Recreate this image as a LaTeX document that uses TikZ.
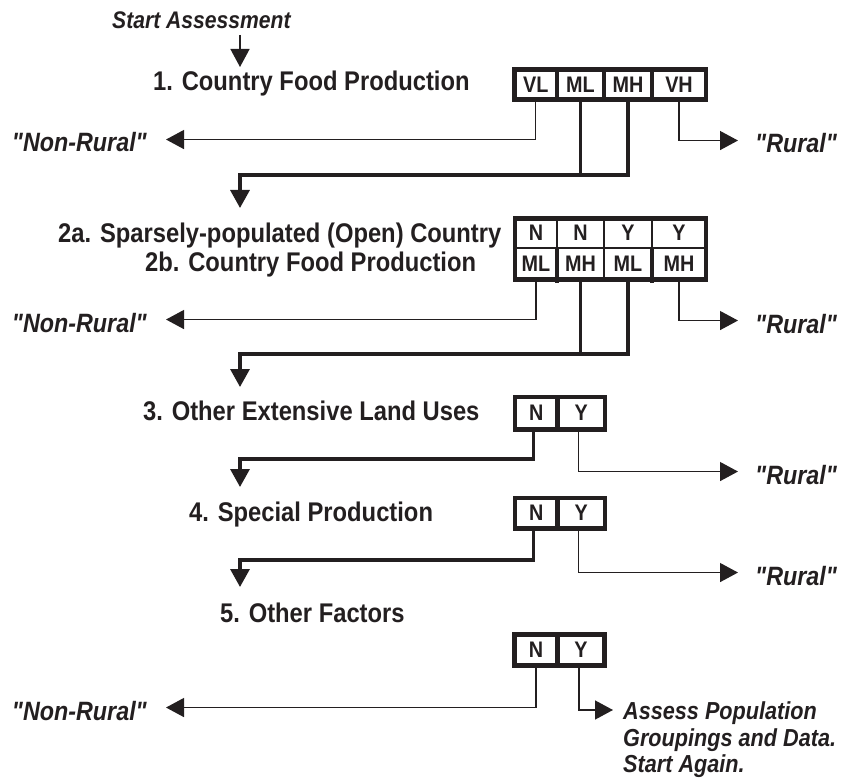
\documentclass[tikz,border=0pt]{standalone}
\usepackage{fontspec}
\setmainfont{Liberation Sans}[FakeStretch=0.88, Ligatures=TeXOff]
\usetikzlibrary{arrows.meta}
\definecolor{ink}{HTML}{231F20}
\tikzset{
  heading/.style={font=\bfseries\fontsize{27}{32}\selectfont, text=ink, inner sep=0pt, anchor=base west},
  verdict/.style={font=\bfseries\itshape\fontsize{26.5}{32}\selectfont, text=ink, inner sep=0pt},
  cell/.style={font=\bfseries\fontsize{22.5}{24}\selectfont, text=ink, inner sep=0pt},
  thinline/.style={draw=ink, line width=1.4pt},
  thickline/.style={draw=ink, line width=3.3pt},
  boxline/.style={draw=ink, line width=4.5pt},
  midline/.style={draw=ink, line width=2.5pt},
  hairline/.style={draw=ink, line width=1.5pt},
  tip/.style={-{Triangle[length=18pt,width=19pt]}}
}
\begin{document}
\begin{tikzpicture}[x=1pt,y=-1pt]
\useasboundingbox (0,0) rectangle (841,778);

% ---------- texts ----------
\node[font=\bfseries\itshape\fontsize{24}{28}\selectfont, text=ink, inner sep=0pt, anchor=base west] (start) at (112,28.5) {Start Assessment};
\node[heading] (h1) at (153,91) {1. Country Food Production};
\node[heading] (h2a) at (58,242.3) {2a. Sparsely-populated (Open) Country};
\node[heading] (h2b) at (145,271.7) {2b. Country Food Production};
\node[heading] (h3) at (143,420.7) {3. Other Extensive Land Uses};
\node[heading] (h4) at (189,521.7) {4. Special Production};
\node[heading] (h5) at (220,622.7) {5. Other Factors};

\node[verdict, anchor=base east] (nr1) at (147,152) {"Non-Rural"};
\node[verdict, anchor=base east] (nr2) at (147,332) {"Non-Rural"};
\node[verdict, anchor=base east] (nr3) at (147,720) {"Non-Rural"};
\node[verdict, anchor=base west] (r1) at (755,153) {"Rural"};
\node[verdict, anchor=base west] (r2) at (755,333) {"Rural"};
\node[verdict, anchor=base west] (r3) at (755,484) {"Rural"};
\node[verdict, anchor=base west] (r4) at (755,585) {"Rural"};
\node[font=\bfseries\itshape\fontsize{24.6}{26.5}\selectfont, text=ink, inner sep=0pt, anchor=north west, align=left] (as) at (623,701.5) {Assess Population\\Groupings and Data.\\Start Again.};

% ---------- cells ----------
% box 1
\node[cell, minimum width=42.5pt, minimum height=30pt] (b1vl) at (535.75,84.5) {VL};
\node[cell, minimum width=47pt, minimum height=30pt] (b1ml) at (580.5,84.5) {ML};
\node[cell, minimum width=48pt, minimum height=30pt] (b1mh) at (628,84.5) {MH};
\node[cell, minimum width=54pt, minimum height=30pt] (b1vh) at (679,84.5) {VH};
% box 2
\node[cell, minimum width=42pt, minimum height=29.5pt] (b2t1) at (536,233.25) {N};
\node[cell, minimum width=47pt, minimum height=29.5pt] (b2t2) at (580.5,233.25) {N};
\node[cell, minimum width=48pt, minimum height=29.5pt] (b2t3) at (628,233.25) {Y};
\node[cell, minimum width=54pt, minimum height=29.5pt] (b2t4) at (679,233.25) {Y};
\node[cell, minimum width=42pt, minimum height=31.5pt] (b2b1) at (536,263.75) {ML};
\node[cell, minimum width=47pt, minimum height=31.5pt] (b2b2) at (580.5,263.75) {MH};
\node[cell, minimum width=48pt, minimum height=31.5pt] (b2b3) at (628,263.75) {ML};
\node[cell, minimum width=54pt, minimum height=31.5pt] (b2b4) at (679,263.75) {MH};
% box 3
\node[cell, minimum width=42.5pt, minimum height=32.5pt] (b3n) at (536.25,413.25) {N};
\node[cell, minimum width=47.5pt, minimum height=32.5pt] (b3y) at (581.25,413.25) {Y};
% box 4
\node[cell, minimum width=42.5pt, minimum height=30.5pt] (b4n) at (536.25,513.25) {N};
\node[cell, minimum width=47.5pt, minimum height=30.5pt] (b4y) at (581.25,513.25) {Y};
% box 5
\node[cell, minimum width=43pt, minimum height=31pt] (b5n) at (536,650) {N};
\node[cell, minimum width=47pt, minimum height=31pt] (b5y) at (581,650) {Y};

% ---------- junction coordinates ----------
\coordinate (j1) at (240,175);  \coordinate (d1) at (240,208);
\coordinate (j2) at (240,354);  \coordinate (d2) at (240,387);
\coordinate (j3) at (240,459);  \coordinate (d3) at (240,487);
\coordinate (j4) at (240,560);  \coordinate (d4) at (240,587);
\coordinate (s0) at (240,35);   \coordinate (d0) at (240,67);

% ---------- connectors ----------
\draw[thinline,tip] (s0) -- (d0);

% box 1
\draw[thinline,tip] (b1vl.south) |- ([xshift=19pt,yshift=3pt]nr1.east);
\draw[thickline] (b1ml.south) -- (b1ml.south |- j1);
\draw[thickline,tip] (b1mh.south) |- (j1) -- (d1);
\draw[thinline,tip] (b1vh.south) |- ([xshift=-17pt,yshift=3pt]r1.west);

% box 2
\draw[thinline,tip] (b2b1.south) |- ([xshift=19pt,yshift=3pt]nr2.east);
\draw[thickline] (b2b2.south) -- (b2b2.south |- j2);
\draw[thickline,tip] (b2b3.south) |- (j2) -- (d2);
\draw[thinline,tip] (b2b4.south) |- ([xshift=-17pt,yshift=3pt]r2.west);
\draw[midline] (b2b4.south) -- ++(0,28);

% box 3
\draw[thickline,tip] ([xshift=-3pt]b3n.south) |- (j3) -- (d3);
\draw[thinline,tip] ([xshift=-3pt]b3y.south) |- ([xshift=-17pt,yshift=3pt]r3.west);

% box 4
\draw[thickline,tip] ([xshift=-3pt]b4n.south) |- (j4) -- (d4);
\draw[thinline,tip] ([xshift=-3pt]b4y.south) |- ([xshift=-17pt,yshift=3pt]r4.west);

% box 5
\draw[thinline,tip] (b5n.south) |- ([xshift=19pt,yshift=3pt]nr3.east);
\draw[thinline,tip] ([xshift=-2pt]b5y.south) |- ([xshift=-10pt,yshift=-8.5pt]as.north west);

% ---------- box frames ----------
\draw[boxline] (b1vl.north west) rectangle (b1vh.south east);
\foreach \c in {b1vl,b1ml,b1mh} \draw[boxline] (\c.north east) -- (\c.south east);

\draw[boxline] (b2t1.north west) rectangle (b2b4.south east);
\draw[hairline] (b2t1.south west) -- (b2t4.south east);
\draw[midline] (b2t1.north east) -- (b2t1.south east);
\draw[hairline] (b2t2.north east) -- (b2t2.south east);
\draw[midline] (b2t3.north east) -- (b2t3.south east);
\draw[boxline] (b2b1.north east) -- ([yshift=-3pt]b2b1.south east);
\draw[midline] (b2b2.north east) -- (b2b2.south east);
\draw[boxline] (b2b3.north east) -- ([yshift=-3pt]b2b3.south east);

\draw[boxline] (b3n.north west) rectangle (b3y.south east);
\draw[boxline] (b3n.north east) -- (b3n.south east);
\draw[boxline] (b4n.north west) rectangle (b4y.south east);
\draw[boxline] (b4n.north east) -- (b4n.south east);
\draw[boxline] (b5n.north west) rectangle (b5y.south east);
\draw[boxline] (b5n.north east) -- (b5n.south east);
\end{tikzpicture}
\end{document}
